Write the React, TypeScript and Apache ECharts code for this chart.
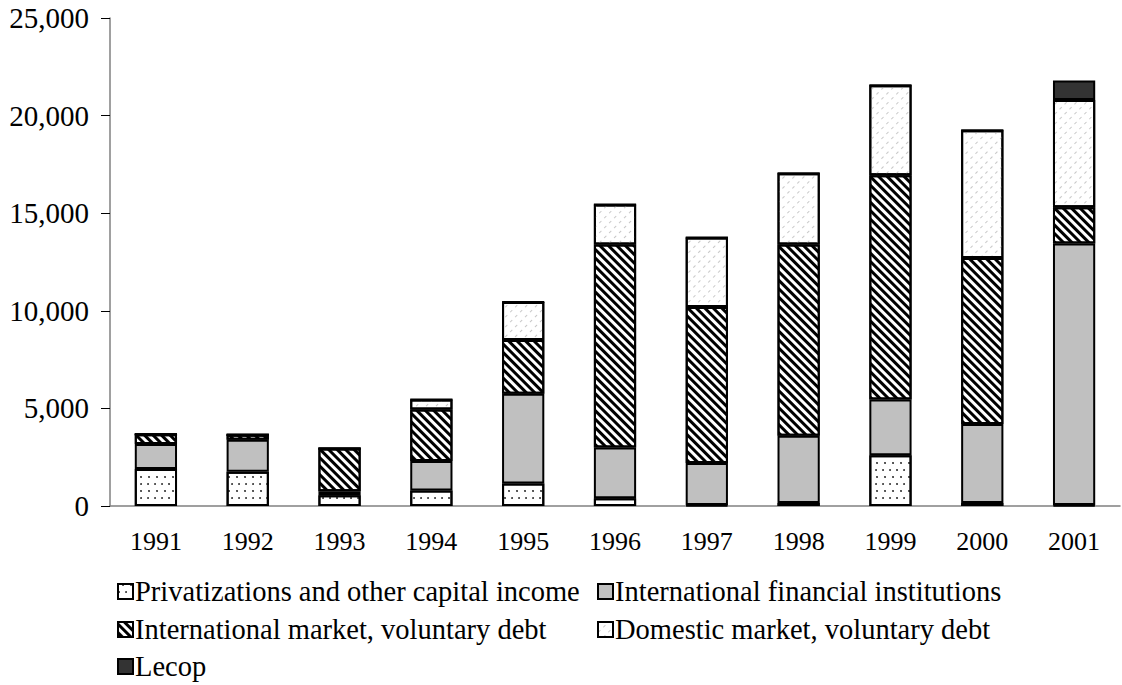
import React, { useEffect, useRef } from "react";
import * as echarts from "echarts";

const years = ["1991", "1992", "1993", "1994", "1995", "1996", "1997", "1998", "1999", "2000", "2001"];
const privatizations = [1900, 1750, 550, 800, 1150, 400, 50, 150, 2600, 150, 50];
const ifis = [1280, 1650, 200, 1500, 4600, 2600, 2150, 3450, 2850, 4050, 13400];
const intlMarket = [500, 250, 2200, 2650, 2750, 10400, 8000, 9800, 11500, 8500, 1850];
const domestic = [0, 0, 0, 500, 1950, 2050, 3550, 3650, 4600, 6550, 5500];
const lecop = [0, 0, 0, 0, 0, 0, 0, 0, 0, 0, 1000];
const yTicks = [0, 5000, 10000, 15000, 20000, 25000];

const NAMES = [
  "Privatizations and other capital income",
  "International financial institutions",
  "International market, voluntary debt",
  "Domestic market, voluntary debt",
  "Lecop",
];

const FONT = "'Liberation Serif', 'Times New Roman', serif";

export default function App() {
  const ref = useRef<HTMLDivElement>(null);
  useEffect(() => {
    if (!ref.current) return;
    const chart = echarts.init(ref.current, null, { renderer: "svg" });
    const border = { borderColor: "#000", borderWidth: 2 };
    const mk = (name: string, data: number[], itemStyle: any) => ({
      name,
      type: "bar",
      stack: "total",
      data,
      barWidth: "46%",
      itemStyle: { ...border, ...itemStyle },
      emphasis: { disabled: true },
    });
    const legendText = { fontFamily: FONT, fontSize: 28.5, color: "#000", padding: [0, 0, 0, -3] };
    const legendPos = [
      [112, 572],
      [592, 572],
      [112, 610],
      [592, 610],
      [112, 647],
    ];
    const legends = NAMES.map((n, i) => ({
      orient: "horizontal",
      left: legendPos[i][0],
      top: legendPos[i][1],
      itemWidth: 15,
      itemHeight: 15,
      icon: "rect",
      textStyle: legendText,
      data: [n],
    }));
    chart.setOption({
      animation: false,
      grid: { left: 110, right: 2, top: 18, bottom: 179, containLabel: false },
      xAxis: {
        type: "category",
        data: years,
        axisLine: { lineStyle: { color: "#808080", width: 1.5 } },
        axisTick: { show: false },
        axisLabel: { color: "#000", fontFamily: FONT, fontSize: 26, margin: 22 },
      },
      yAxis: {
        type: "value",
        min: yTicks[0],
        max: yTicks[yTicks.length - 1],
        interval: 5000,
        splitLine: { show: false },
        axisLine: { show: true, lineStyle: { color: "#808080", width: 1.5 } },
        axisTick: { show: true, length: 9, lineStyle: { color: "#000" } },
        axisLabel: {
          color: "#000",
          fontFamily: FONT,
          fontSize: 29,
          margin: 21,
          formatter: (v: number) => v.toLocaleString("en-US"),
        },
      },
      legend: legends,
      series: [
        mk(NAMES[0], privatizations, {
          color: "#fff",
          decal: {
            symbol: "circle",
            symbolSize: 0.8,
            color: "#000",
            dashArrayX: [[2, 5], [0, 3.5, 2, 1.5]],
            dashArrayY: [2, 5],
            rotation: 0,
          },
        }),
        mk(NAMES[1], ifis, { color: "#c0c0c0" }),
        mk(NAMES[2], intlMarket, {
          color: "#fff",
          decal: {
            symbol: "rect",
            symbolSize: 1,
            color: "#000",
            dashArrayX: [1, 0],
            dashArrayY: [2.5, 2.5],
            rotation: Math.PI / 4,
          },
        }),
        mk(NAMES[3], domestic, {
          color: "#fff",
          decal: {
            symbol: "rect",
            symbolSize: 1,
            color: "#c8c8c8",
            dashArrayX: [3, 4],
            dashArrayY: [1, 6],
            rotation: -Math.PI / 4,
          },
        }),
        mk(NAMES[4], lecop, { color: "#333" }),
      ],
    });
    return () => chart.dispose();
  }, []);
  return (
    <div
      ref={ref}
      style={{ position: "fixed", left: 0, top: 0, width: 1122, height: 685, background: "#fff" }}
    />
  );
}
